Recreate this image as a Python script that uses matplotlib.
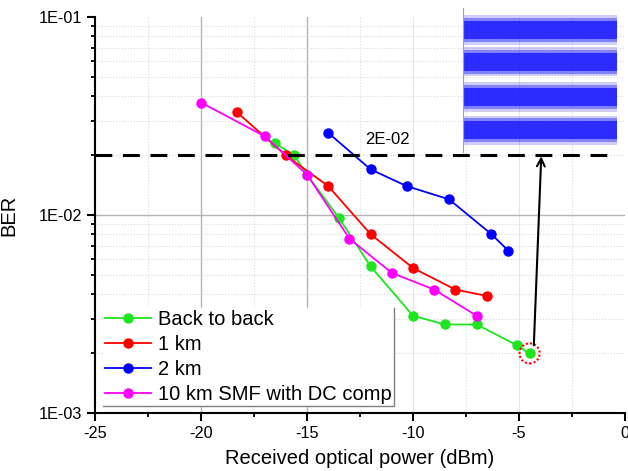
import matplotlib as mpl

mpl.use('agg')
import matplotlib.pyplot as plt
import numpy as np
from matplotlib.ticker import LogLocator, MultipleLocator, NullFormatter, FuncFormatter

plt.rcParams['font.family'] = ['Liberation Sans', 'DejaVu Sans']
plt.rcParams['axes.unicode_minus'] = False

# received optical power (dBm) / BER
b2b_x = [-16.5, -15.6, -15.0, -13.5, -12.0, -10.0, -8.5, -7.0, -5.1, -4.5]
b2b_y = [2.3e-2, 2.0e-2, 1.6e-2, 9.7e-3, 5.5e-3, 3.1e-3, 2.8e-3, 2.8e-3, 2.2e-3, 2.0e-3]

km1_x = [-18.3, -16.0, -14.0, -12.0, -10.0, -8.0, -6.5]
km1_y = [3.3e-2, 2.0e-2, 1.4e-2, 8.0e-3, 5.4e-3, 4.2e-3, 3.9e-3]

km2_x = [-14.0, -12.0, -10.3, -8.3, -6.3, -5.5]
km2_y = [2.6e-2, 1.7e-2, 1.4e-2, 1.2e-2, 8.0e-3, 6.6e-3]

smf_x = [-20.0, -17.0, -15.0, -13.0, -11.0, -9.0, -7.0]
smf_y = [3.7e-2, 2.5e-2, 1.6e-2, 7.6e-3, 5.1e-3, 4.2e-3, 3.1e-3]

series = [
    (b2b_x, b2b_y, '#1ee61e', 'Back to back'),
    (km1_x, km1_y, '#ff0000', '1 km'),
    (km2_x, km2_y, '#0000ff', '2 km'),
    (smf_x, smf_y, '#ff00ff', '10 km SMF with DC comp'),
]

fec_limit = 2e-2
marked_point = (-4.5, 2.0e-3)
arrow_start = (-4.3, 2.2e-3)
arrow_end = (-3.95, 1.98e-2)

# PAM4 levels of the inset eye, and the band layers (half width, alpha)
eye_levels = [0, 1.0, 2.05, 3.0]
band_layers = [(0.44, 0.2), (0.36, 0.4), (0.27, 0.75)]


def main():
    fig = plt.figure(figsize=(6.28, 4.71), dpi=100)
    ax = fig.add_axes([0.1513, 0.1231, 0.8439, 0.8408])
    ax.set_yscale('log')
    ax.set_xlim(-25, 0)
    ax.set_ylim(1e-3, 1e-1)

    # grid, drawn by hand like the original
    for v in [-20, -15]:
        ax.axvline(v, color='#b4b4b4', lw=1.0, zorder=0)
    for v in [-10, -5]:
        ax.axvline(v, color='#e6e6e6', lw=0.8, zorder=0)
    for v in [-22.5, -17.5, -12.5, -7.5, -2.5]:
        ax.axvline(v, color='#dcdcdc', lw=0.8, ls=':', zorder=0)
    ax.axhline(1e-2, color='#b4b4b4', lw=1.0, zorder=0)
    for dec in [1e-3, 1e-2]:
        for m in range(2, 10):
            ax.axhline(m * dec, color='#d8d8d8', lw=0.8, ls=':', zorder=0)

    for x, y, c, lab in series:
        ax.plot(x, y, '-o', color=c, lw=1.3, ms=6.5, label=lab, zorder=3)

    ax.axhline(fec_limit, xmax=0.985, color='black', lw=2.2, dashes=(5.5, 3.5), zorder=4)
    ax.text(-11.2, 2.42e-2, '2E-02', ha='center', va='center', fontsize=12)

    ax.scatter([marked_point[0]], [marked_point[1]], s=210, facecolors='none',
               edgecolors='red', linewidths=1.5, linestyles=(0, (1, 1)), zorder=5)
    ax.annotate('', xy=arrow_end, xytext=arrow_start,
                arrowprops=dict(arrowstyle='->', color='black', lw=1.5,
                                shrinkA=0, shrinkB=0, mutation_scale=14), zorder=6)

    ax.spines['right'].set_visible(False)
    ax.spines['top'].set_visible(False)
    for s in ['left', 'bottom']:
        ax.spines[s].set_linewidth(1.5)

    ax.xaxis.set_major_locator(MultipleLocator(5))
    ax.xaxis.set_minor_locator(MultipleLocator(2.5))
    ax.yaxis.set_major_locator(LogLocator(base=10, numticks=10))
    ax.yaxis.set_minor_locator(LogLocator(base=10, subs=range(2, 10), numticks=20))
    ax.yaxis.set_minor_formatter(NullFormatter())
    ax.yaxis.set_major_formatter(FuncFormatter(lambda v, _: f'{v:.0E}'))
    ax.tick_params(which='major', direction='out', length=5.8, width=1.5,
                   labelsize=11.7, pad=3.5)
    ax.tick_params(which='minor', direction='out', length=3.2, width=1.3)

    ax.set_xlabel('Received optical power (dBm)', fontsize=14.5)
    ax.set_ylabel('BER', fontsize=14.5)
    ax.xaxis.set_label_coords(0.5, -0.092)
    ax.yaxis.set_label_coords(-0.145, 0.5)

    leg = ax.legend(loc='lower left', bbox_to_anchor=(0.015, 0.018), borderaxespad=0,
                    fontsize=14.5, handlelength=2.3, handletextpad=0.35,
                    labelspacing=0.3, borderpad=0.1, fancybox=False,
                    framealpha=1, facecolor='white', edgecolor='white')
    leg.set_zorder(7)

    # thin shadow on the right and bottom of the legend box
    fig.canvas.draw()
    bb = leg.get_window_extent().transformed(ax.transAxes.inverted())
    ax.plot([bb.x0, bb.x1, bb.x1], [bb.y0, bb.y0, bb.y1], transform=ax.transAxes,
            color='#808080', lw=1.0, clip_on=False, zorder=8)

    # inset: received PAM4 samples
    iax = fig.add_axes([0.737, 0.677, 0.245, 0.306])
    iax.set_facecolor('none')
    iax.set_xlim(0, 1)
    iax.set_ylim(-0.65, 3.65)
    for s in ['top', 'right', 'bottom']:
        iax.spines[s].set_visible(False)
    iax.spines['left'].set_color('#a0a0a0')
    iax.spines['left'].set_linewidth(0.8)
    iax.set_xticks([])
    iax.set_yticks([])
    for lv in eye_levels:
        for hw, al in band_layers:
            iax.fill_between([0, 1], lv - hw, lv + hw, facecolor='#1010ff',
                             alpha=al, lw=0)

    fig.savefig('out.png', dpi=100)
    fig.clf()


if __name__ == '__main__':
    main()
